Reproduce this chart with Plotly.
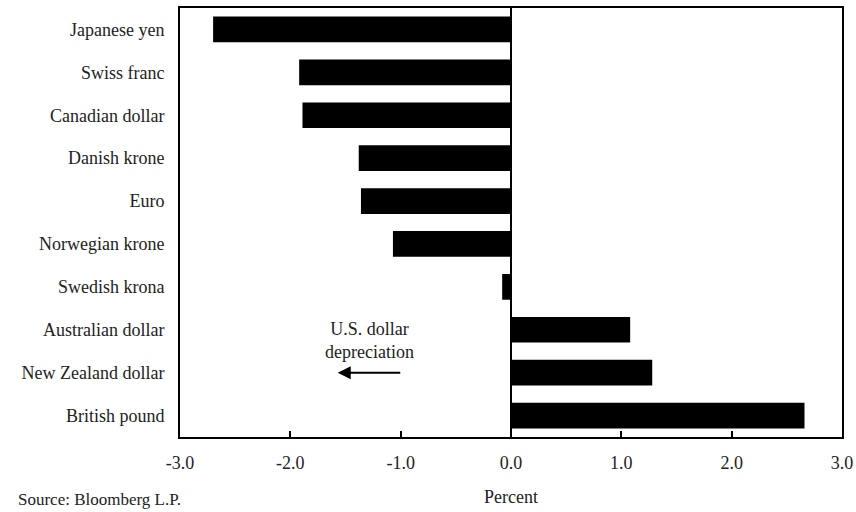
import plotly.graph_objects as go

currencies = ["Japanese yen", "Swiss franc", "Canadian dollar", "Danish krone", "Euro",
              "Norwegian krone", "Swedish krona", "Australian dollar", "New Zealand dollar",
              "British pound"]
values = [-2.70, -1.92, -1.89, -1.38, -1.36, -1.07, -0.08, 1.08, 1.28, 2.66]
tick_vals = [-3, -2, -1, 0, 1, 2, 3]
tick_text = ["-3.0", "-2.0", "-1.0", "0.0", "1.0", "2.0", "3.0"]

FONT = "Liberation Serif, Times New Roman, serif"
TXT = "#222"
FS = 18

fig = go.Figure()
fig.add_trace(go.Bar(
    x=values, y=currencies, orientation="h",
    marker=dict(color="black", line=dict(width=0)),
    width=0.6, showlegend=False,
))

fig.add_vline(x=0, line=dict(color="black", width=2))

fig.add_annotation(
    x=-1.28, y=7.25, xref="x", yref="y",
    text="U.S. dollar<br>depreciation", showarrow=False,
    font=dict(family=FONT, size=FS, color=TXT),
)
fig.add_annotation(
    x=-1.57, y=8.0, ax=-0.99, ay=8.0,
    xref="x", yref="y", axref="x", ayref="y",
    text="", showarrow=True, arrowhead=2, arrowsize=1.3, arrowwidth=2, arrowcolor="black",
)

fig.add_annotation(
    x=0.5, y=-0.14, xref="paper", yref="paper",
    text="Percent", showarrow=False, yanchor="middle",
    font=dict(family=FONT, size=FS, color=TXT),
)
fig.add_annotation(
    x=-0.248, y=-0.172, xref="paper", yref="paper", xanchor="left", yanchor="bottom",
    text="Source: Bloomberg L.P.", showarrow=False,
    font=dict(family=FONT, size=FS - 1, color=TXT),
)

fig.update_layout(
    width=856, height=512,
    margin=dict(l=180, r=14, t=8, b=75),
    paper_bgcolor="white", plot_bgcolor="white",
    font=dict(family=FONT, size=FS, color=TXT),
    xaxis=dict(
        range=[-3, 3], tickvals=tick_vals, ticktext=tick_text,
        ticks="inside", ticklen=6, tickcolor="black", tickwidth=1.5,
        showgrid=False, zeroline=False, automargin=False,
        showline=True, linecolor="black", linewidth=2, mirror=True,
        tickfont=dict(family=FONT, size=FS, color=TXT),
        ticklabelstandoff=8,
    ),
    yaxis=dict(
        categoryorder="array", categoryarray=currencies, autorange="reversed",
        showgrid=False, zeroline=False, ticks="", automargin=False,
        showline=True, linecolor="black", linewidth=2, mirror=True,
        ticklabelstandoff=10,
        tickfont=dict(family=FONT, size=FS, color=TXT),
    ),
)

fig.write_html("out.html", config={"displayModeBar": False},
               post_script="document.body.style.margin='0';")
